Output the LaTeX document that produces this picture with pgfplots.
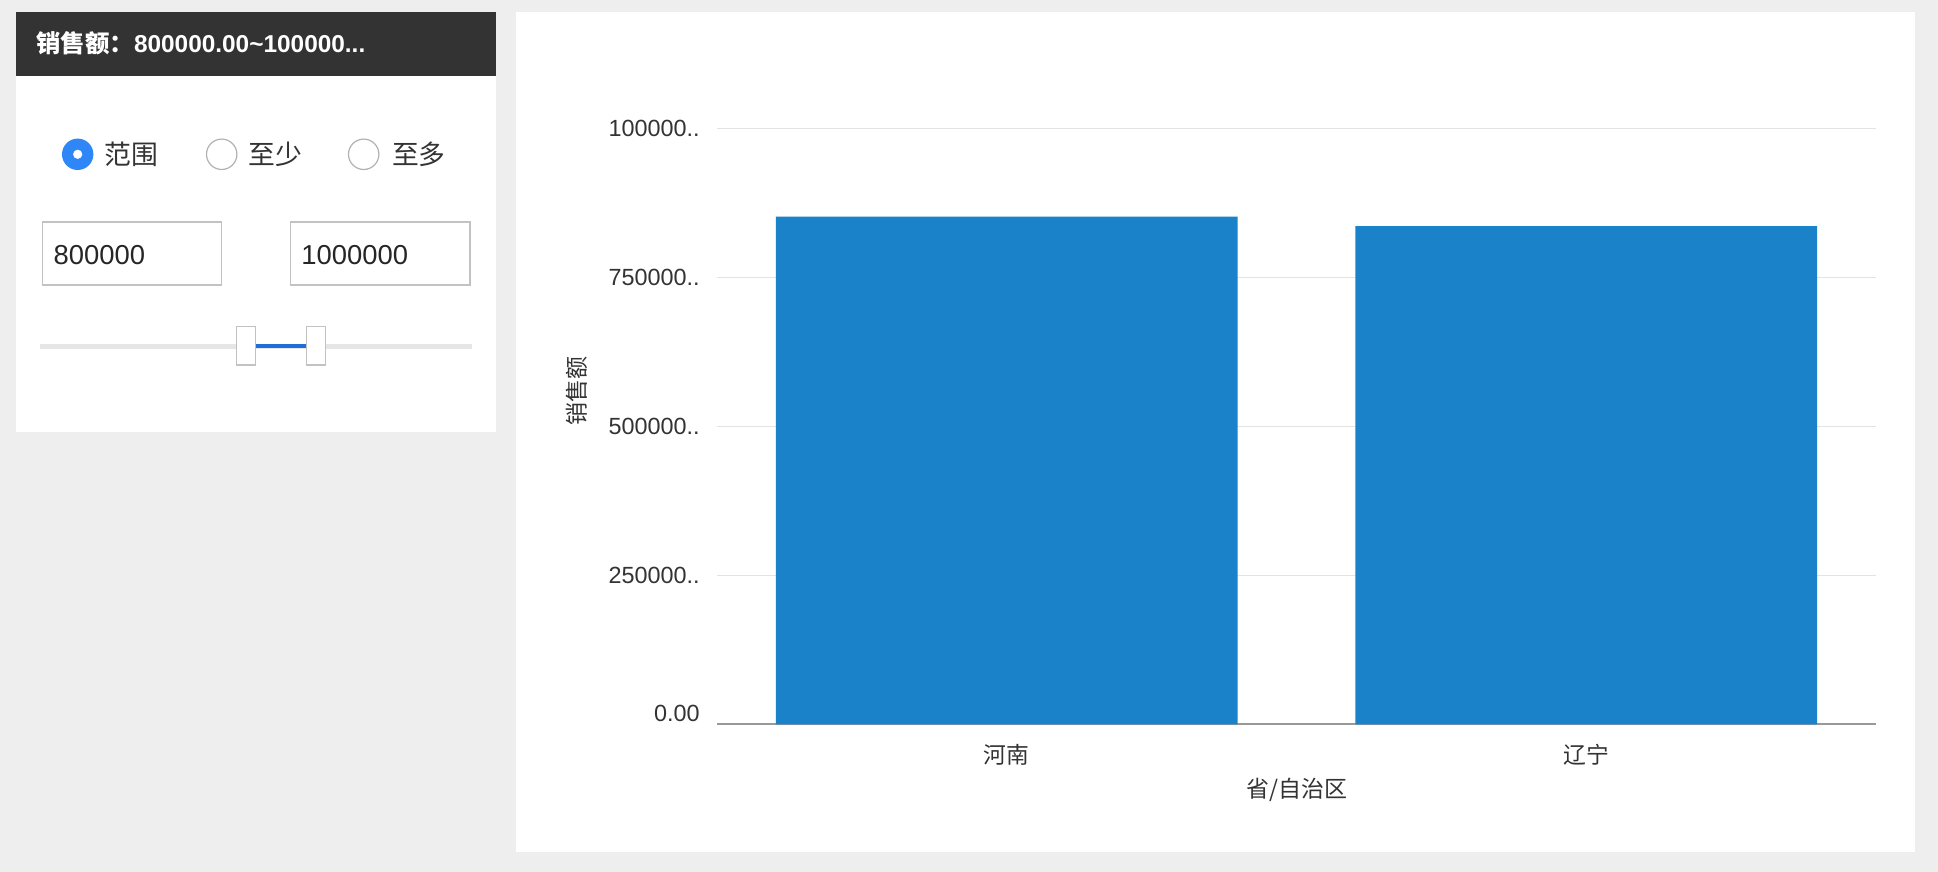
\documentclass[border=0pt]{standalone}
\usepackage{pgfplots}
\pgfplotsset{compat=1.18}
\usepackage{fontspec}
\setmainfont{Liberation Sans}
\newfontfamily\cjk{Noto Sans CJK SC}

\definecolor{pagebg}{HTML}{EEEEEE}
\definecolor{headbg}{HTML}{333333}
\definecolor{barblue}{HTML}{1A82C9}
\definecolor{radioblue}{HTML}{2F86F6}
\definecolor{gridgray}{HTML}{E3E3E3}
\definecolor{boxgray}{HTML}{C2C2C2}
\definecolor{textdark}{HTML}{333333}
\definecolor{trackgray}{HTML}{E6E6E6}
\definecolor{sliderblue}{HTML}{1F6FD8}
\definecolor{axisgray}{HTML}{999999}

\begin{document}
\begin{tikzpicture}
% page background and panels (1 unit = 0.5pt, y measured upward)
\begin{scope}[x=0.5pt,y=0.5pt]
  \fill[pagebg] (0,0) rectangle (1938,872);
  % filter panel
  \fill[white] (16,440) rectangle (496,860);
  \fill[headbg] (16,796.3) rectangle (496,860);
  \node[anchor=west, inner sep=0pt, text=white, font=\fontsize{12.2}{14}\selectfont\bfseries]
    at (36,828.3) {{\cjk 销售额：}800000.00\textasciitilde100000...};
  % radio buttons
  \fill[radioblue] (77.7,717.7) circle (15.7);
  \fill[white] (77.7,717.7) circle (4.6);
  \draw[white!70!black, line width=0.6pt, fill=white] (221.7,717.7) circle (15.2);
  \draw[white!70!black, line width=0.6pt, fill=white] (363.7,717.7) circle (15.2);
  \begin{scope}[every node/.style={anchor=west, inner sep=0pt, text=textdark,
      font=\cjk\fontsize{13.4}{16}\selectfont}]
    \node at (104,717.7) {范围};
    \node at (248,717.7) {至少};
    \node at (391.7,717.7) {至多};
  \end{scope}
  % input boxes
  \draw[boxgray, line width=0.8pt, fill=white] (42.3,586.7) rectangle (221.3,649.7);
  \draw[boxgray, line width=0.8pt, fill=white] (290.3,586.7) rectangle (469.7,649.7);
  \node[anchor=base west, inner sep=0pt, text=black!85, font=\fontsize{13.7}{16}\selectfont]
    at (53.3,607) {800000};
  \node[anchor=base west, inner sep=0pt, text=black!85, font=\fontsize{13.7}{16}\selectfont]
    at (301,607) {1000000};
  % range slider
  \fill[trackgray] (40,522.7) rectangle (472,528);
  \fill[sliderblue] (255,524.3) rectangle (306,527.7);
  \draw[boxgray, line width=0.8pt, fill=white] (236.3,506.7) rectangle (255.3,545.3);
  \draw[boxgray, line width=0.8pt, fill=white] (306.3,506.7) rectangle (325.3,545.3);
  % chart panel
  \fill[white] (515.5,20) rectangle (1914.6,860);
\end{scope}

\begin{axis}[
  at={(358.5pt,73.85pt)}, anchor=south west,
  scale only axis, width=579.5pt, height=297.9pt,
  xmin=-0.5, xmax=1.5, ymin=0, ymax=1000000,
  scaled y ticks=false,
  axis x line*=bottom, axis y line*=left,
  y axis line style={draw=none},
  x axis line style={draw=axisgray, line width=1.2pt},
  xtick={0,1}, xticklabels={河南,辽宁},
  ytick={0,250000,500000,750000,1000000},
  yticklabels={{\raisebox{11pt}{0.00}},250000..,500000..,750000..,100000..},
  xtick style={draw=none}, ytick style={draw=none},
  ymajorgrids, grid style={draw=gridgray, line width=0.75pt},
  yticklabel style={anchor=east, inner sep=0pt, xshift=-8.5pt, text=textdark,
    font=\fontsize{11.7}{14}\selectfont},
  xticklabel style={anchor=center, inner sep=0pt, yshift=-15.35pt, text=textdark,
    font=\cjk\fontsize{11.4}{14}\selectfont},
  xlabel={省/自治区},
  xlabel style={at={(axis description cs:0.5,0)}, anchor=center, inner sep=0pt,
    yshift=-32.85pt, text=textdark, font=\cjk\fontsize{11.5}{14}\selectfont},
  ylabel={销售额},
  ylabel style={at={(axis description cs:-0.1208,0.56)}, anchor=center, inner sep=0pt,
    text=textdark, font=\cjk\fontsize{11.5}{14}\selectfont},
  clip=false,
]
\addplot[ybar, fill=barblue, draw=none, bar width=0.797]
  coordinates {(0,852000) (1,836000)};
\end{axis}
\end{tikzpicture}
\end{document}
